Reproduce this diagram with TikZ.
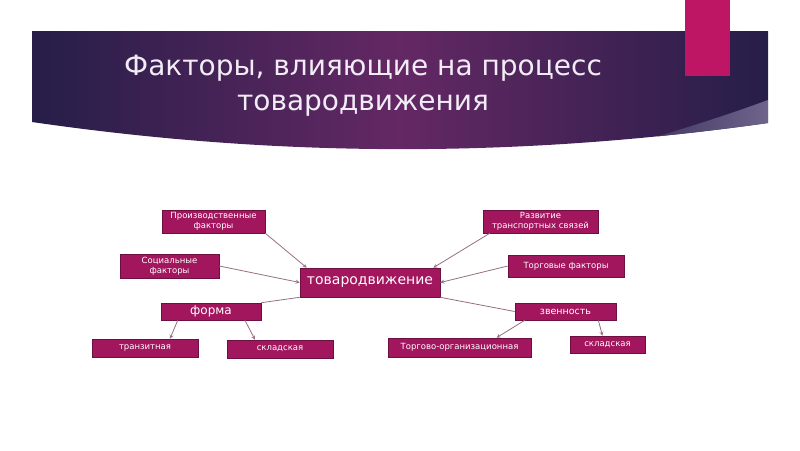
\documentclass[tikz,border=0pt]{standalone}
\usepackage{fontspec}
\setmainfont{DejaVu Sans}
\definecolor{bannerdark}{RGB}{38,30,72}
\definecolor{bannermid}{RGB}{100,40,100}
\definecolor{wedgegray}{RGB}{110,100,140}
\definecolor{accentpink}{RGB}{190,22,100}
\definecolor{boxmagenta}{RGB}{162,22,94}
\definecolor{boxborder}{RGB}{110,15,65}
\definecolor{linkgray}{RGB}{150,110,130}
\definecolor{titlewhite}{RGB}{242,236,246}
\usepackage{tikz}

\tikzset{
  factorbox/.style={fill=boxmagenta, draw=boxborder, line width=0.6pt, text=white,
    align=center, inner sep=0pt, font=\fontsize{8.5}{10}\selectfont},
  link/.style={draw=linkgray, line width=0.8pt},
  arrowlink/.style={link, ->, >=stealth},
}

\begin{document}
\begin{tikzpicture}[x=1pt,y=-1pt]
\useasboundingbox (0,0) rectangle (800,450);

% banner
\shade[left color=bannerdark, right color=bannerdark, middle color=bannermid]
  (32,31) -- (768,31) -- (768,123) .. controls (520,158) and (280,158) .. (32,122) -- cycle;
\begin{scope}
  \clip (32,31) -- (768,31) -- (768,123) .. controls (520,158) and (280,158) .. (32,122) -- cycle;
  \shade[left color=bannerdark, right color=wedgegray]
    (768,100) .. controls (700,125) and (650,138) .. (580,160) -- (768,160) -- cycle;
\end{scope}
\fill[accentpink] (685,0) rectangle (730,76);
\node[text=titlewhite, align=center, font=\fontsize{28}{35}\selectfont] (title) at (363,86)
  {Факторы, влияющие на процесс\\товародвижения};

% boxes
\node[factorbox, minimum width=140, minimum height=29, font=\fontsize{14}{16}\selectfont] (tovar) at (370,282.5) {товародвижение};
\node[factorbox, minimum width=103, minimum height=23] (prodfactors) at (213.5,221.5) {Производственные\\факторы};
\node[factorbox, minimum width=99, minimum height=24] (socfactors) at (169.5,266) {Социальные\\факторы};
\node[factorbox, minimum width=100, minimum height=17, font=\fontsize{12}{14}\selectfont] (forma) at (211,311.5) {форма};
\node[factorbox, minimum width=106, minimum height=18] (tranzit) at (145,348) {транзитная};
\node[factorbox, minimum width=106, minimum height=18] (sklad1) at (280,349) {складская};
\node[factorbox, minimum width=115, minimum height=23] (transport) at (540.5,221.5) {Развитие\\транспортных связей};
\node[factorbox, minimum width=116, minimum height=22] (trade) at (566,266) {Торговые факторы};
\node[factorbox, minimum width=101, minimum height=17, font=\fontsize{9.5}{11}\selectfont] (zvennost) at (565.5,311.5) {звенность};
\node[factorbox, minimum width=143, minimum height=19] (orgtorg) at (459.5,347.5) {Торгово-организационная};
\node[factorbox, minimum width=75, minimum height=17] (sklad2) at (607.5,344.5) {складская};

% connectors
\draw[arrowlink] (prodfactors.south east) -- ([xshift=7]tovar.north west);
\draw[arrowlink] (socfactors.east) -- (tovar.west);
\draw[arrowlink] ([xshift=7]transport.south west) -- ([xshift=-7]tovar.north east);
\draw[arrowlink] (trade.west) -- (tovar.east);
\draw[link] (tovar.south west) -- (forma.north east);
\draw[link] (tovar.south east) -- (zvennost.west);
\draw[arrowlink] ([xshift=17]forma.south west) -- ([xshift=25]tranzit.north);
\draw[arrowlink] ([xshift=34]forma.south) -- ([xshift=-25]sklad1.north);
\draw[arrowlink] ([xshift=10]zvennost.south west) -- ([xshift=37]orgtorg.north);
\draw[arrowlink] ([xshift=-18]zvennost.south east) -- ([xshift=-5]sklad2.north);
\end{tikzpicture}
\end{document}
